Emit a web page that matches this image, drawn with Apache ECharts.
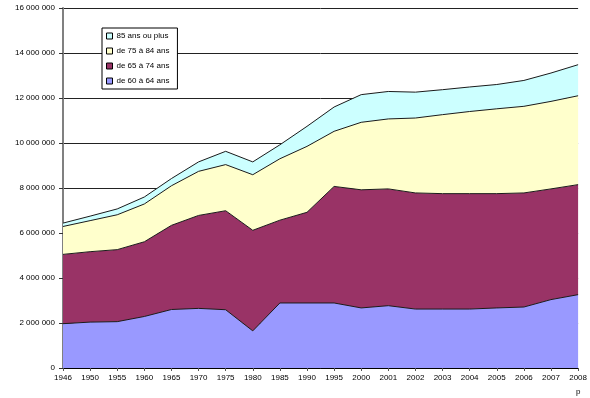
<!DOCTYPE html>
<html>
<head>
<meta charset="utf-8">
<script src="https://cdn.jsdelivr.net/npm/echarts@6/dist/echarts.min.js"></script>
<style>
html, body { margin: 0; padding: 0; background: #fff; }
#areaChart { width: 590px; height: 398px; }
</style>
</head>
<body>
<div id="areaChart"></div>
<script>
var years = ['1946','1950','1955','1960','1965','1970','1975','1980','1985','1990','1995','2000','2001','2002','2003','2004','2005','2006','2007','2008'];
var age60to64 = [1970000, 2040000, 2060000, 2290000, 2600000, 2650000, 2590000, 1650000, 2890000, 2890000, 2890000, 2670000, 2770000, 2620000, 2620000, 2620000, 2670000, 2710000, 3040000, 3260000];
var age65to74 = [3080000, 3130000, 3200000, 3320000, 3740000, 4130000, 4400000, 4470000, 3680000, 4030000, 5180000, 5250000, 5190000, 5160000, 5130000, 5130000, 5080000, 5070000, 4920000, 4890000];
var age75to84 = [1240000, 1380000, 1550000, 1680000, 1760000, 1960000, 2050000, 2470000, 2730000, 2930000, 2450000, 3000000, 3110000, 3330000, 3510000, 3650000, 3770000, 3850000, 3890000, 3950000];
var age85plus = [150000, 200000, 260000, 310000, 320000, 420000, 590000, 570000, 620000, 890000, 1080000, 1230000, 1220000, 1150000, 1110000, 1090000, 1080000, 1150000, 1260000, 1380000];

var dom = document.getElementById("areaChart");
var myChart = echarts.init(dom);
var option = null;

var font = 'Liberation Sans, Arial, sans-serif';

function areaSeries(name, data, color) {
    return {
        name: name,
        type: 'line',
        stack: 'total',
        data: data,
        symbol: 'none',
        lineStyle: { color: '#1a1a1a', width: 1 },
        areaStyle: { color: color, opacity: 1 },
        itemStyle: { color: color }
    };
}

option = {
    animation: false,
    backgroundColor: '#fff',
    grid: {
        left: 63,
        right: 11,
        top: 8,
        bottom: 30
    },
    legend: {
        orient: 'vertical',
        left: 102,
        top: 28,
        data: ['85 ans ou plus', 'de 75 à 84 ans', 'de 65 à 74 ans', 'de 60 à 64 ans'],
        backgroundColor: '#fff',
        borderColor: '#000',
        borderWidth: 1,
        padding: [4, 8, 4, 4],
        itemWidth: 6,
        itemHeight: 6,
        itemGap: 7,
        icon: 'rect',
        itemStyle: { borderColor: '#000', borderWidth: 1 },
        textStyle: { fontFamily: font, fontSize: 8, color: '#000', padding: [0, 0, 0, -1] }
    },
    xAxis: {
        type: 'category',
        boundaryGap: false,
        data: years,
        axisLine: { lineStyle: { color: '#000', width: 1 } },
        axisTick: { show: true, inside: false, length: 3, lineStyle: { color: '#555' } },
        axisLabel: {
            fontFamily: font,
            fontSize: 8,
            color: '#000',
            margin: 6,
            interval: 0,
            formatter: function (v) { return v === '2008' ? '2008\n{p|p}' : v; },
            rich: {
                p: { fontFamily: font, fontSize: 8, color: '#000', padding: [6, 0, 0, 0] }
            }
        }
    },
    yAxis: {
        type: 'value',
        min: 0,
        max: 16000000,
        interval: 2000000,
        axisLine: { show: true, lineStyle: { color: '#808080', width: 2 } },
        axisTick: { show: true, inside: false, length: 4, lineStyle: { color: '#333' } },
        splitLine: { show: true, lineStyle: { color: '#222', width: 1 } },
        axisLabel: {
            fontFamily: font,
            fontSize: 8,
            color: '#000',
            margin: 8,
            formatter: function (v) { return String(v).replace(/\B(?=(\d{3})+(?!\d))/g, ' '); }
        }
    },
    series: [
        areaSeries('de 60 à 64 ans', age60to64, '#9999ff'),
        areaSeries('de 65 à 74 ans', age65to74, '#993366'),
        areaSeries('de 75 à 84 ans', age75to84, '#ffffcc'),
        areaSeries('85 ans ou plus', age85plus, '#ccffff')
    ]
};

if (option && typeof option === "object") {
    myChart.setOption(option, true);
}
</script>
</body>
</html>
